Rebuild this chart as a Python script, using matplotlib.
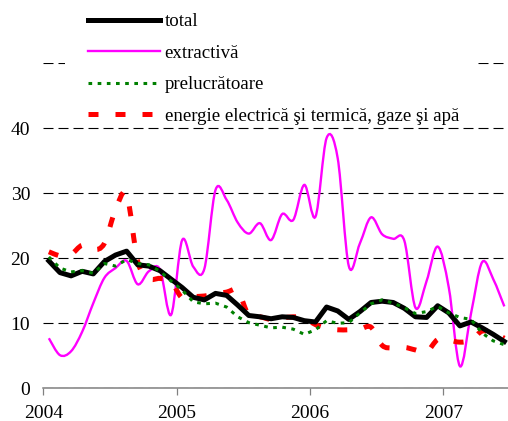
import numpy as np
import matplotlib.pyplot as plt
from matplotlib.path import Path
from matplotlib.patches import PathPatch, Rectangle
from matplotlib.lines import Line2D

plt.rcParams['font.family'] = ['Liberation Serif', 'DejaVu Serif']

years = ['2004', '2005', '2006', '2007']
# monthly data Jan 2004 .. Jun 2007, plotted mid-month
months = np.arange(42) + 0.5

total = [19.6, 17.8, 17.3, 18.0, 17.6, 19.5, 20.5, 21.1, 19.0, 18.8, 18.1, 16.8,
         15.5, 14.0, 13.6, 14.6, 14.3, 12.8, 11.2, 11.0, 10.7, 11.0, 10.9, 10.4,
         10.2, 12.5, 11.9, 10.6, 11.8, 13.2, 13.4, 13.2, 12.3, 11.0, 10.9, 12.7,
         11.6, 9.6, 10.2, 9.3, 8.3, 7.2]
extractiva = [7.7, 5.1, 5.7, 8.7, 13.1, 17.0, 18.5, 19.6, 16.0, 18.0, 18.3, 11.3,
              22.8, 18.7, 18.4, 30.5, 29.0, 25.5, 23.8, 25.4, 22.8, 26.8, 25.9, 31.3,
              26.4, 38.5, 35.4, 18.8, 22.3, 26.3, 23.7, 23.0, 22.7, 12.4, 16.5, 21.8,
              15.5, 3.4, 11.5, 19.4, 16.8, 12.6]
prelucratoare = [20.2, 18.5, 17.9, 18.1, 17.7, 19.2, 18.8, 19.8, 19.2, 19.0, 18.0, 16.5,
                 15.1, 13.3, 13.0, 13.1, 12.5, 11.0, 10.1, 9.7, 9.3, 9.4, 9.1, 8.3,
                 9.0, 10.4, 10.0, 10.1, 11.6, 13.0, 13.6, 13.1, 12.4, 11.5, 11.8, 12.6,
                 11.6, 10.9, 10.6, 8.5, 7.3, 6.7]
energie = [21.0, 20.4, 20.6, 22.0, 21.3, 22.3, 27.5, 29.8, 19.5, 16.9, 16.9, 16.4,
           13.9, 14.1, 14.2, 14.5, 14.8, 15.0, 11.2, 11.0, 10.6, 10.8, 11.0, 10.8,
           9.8, 9.2, 9.0, 9.0, 9.1, 9.4, 6.6, 6.2, 6.3, 5.9, 5.6, 7.5,
           7.4, 7.1, 7.4, 8.8, 8.5, 7.7]

labels = ['total', 'extractivă', 'prelucrătoare',
          'energie electrică şi termică, gaze şi apă']


def smooth(x, y):
    # smoothed line like excel: cubic bezier going through every point
    p = np.column_stack([np.asarray(x, float), np.asarray(y, float)])
    pp = np.vstack([p[0], p, p[-1]])
    verts = [p[0]]
    codes = [Path.MOVETO]
    for i in range(len(p) - 1):
        p0, p1, p2, p3 = pp[i], pp[i + 1], pp[i + 2], pp[i + 3]
        verts += [p1 + (p2 - p0) / 6, p2 - (p3 - p1) / 6, p2]
        codes += [Path.CURVE4] * 3
    return Path(verts, codes)


fig = plt.figure(figsize=(5.08, 4.21), dpi=100)
ax = fig.add_axes([43.3 / 508, 32.7 / 421, (508 - 43.3) / 508, 325 / 421])
ax.set_xlim(0, 41.83)
ax.set_ylim(0, 50)

for s in ['top', 'right', 'left']:
    ax.spines[s].set_visible(False)
ax.spines['bottom'].set_color('#808080')
ax.spines['bottom'].set_linewidth(1.1)

ax.set_xticks([0, 12, 24, 36], years)
ax.set_yticks([0, 10, 20, 30, 40, 50], ['0', '10', '20', '30', '40', ''])
ax.tick_params(axis='x', direction='out', length=5, width=0.9, color='#808080',
               pad=7, labelsize=14)
ax.tick_params(axis='y', length=0, pad=9.5, labelsize=14)
ax.yaxis.grid(True, color='black', lw=0.8, linestyle=(0, (9, 4.5)))
ax.set_axisbelow(True)

ax.plot(months, total, color='black', lw=3.6)
ax.add_patch(PathPatch(smooth(months, extractiva), fill=False,
                       edgecolor='#ff00ff', lw=1.7))
ax.plot(months, prelucratoare, color='#008000', lw=2.2, linestyle=(0, (1.2, 1.8)))
ax.add_patch(PathPatch(smooth(months, energie), fill=False,
                       edgecolor='red', lw=3.6, linestyle=(0, (2, 3.4))))

# white legend area hiding the top gridline
fig.patches.append(Rectangle((65 / 508, 1 - 120 / 421), 413 / 508, 120 / 421,
                             transform=fig.transFigure, facecolor='white',
                             edgecolor='none', zorder=1))

handles = [Line2D([], [], color='black', lw=3.6),
           Line2D([], [], color='#ff00ff', lw=1.7),
           Line2D([], [], color='#008000', lw=2.2, linestyle=(0, (1.2, 1.8))),
           Line2D([], [], color='red', lw=3.6, linestyle=(0, (2, 3.4)))]
fig.legend(handles, labels, loc='upper left', bbox_to_anchor=(88 / 508, 1 - 13 / 421),
           frameon=False, borderpad=0, borderaxespad=0, handlelength=3.8,
           handletextpad=0.26, labelspacing=0.76, fontsize=13.6)

fig.savefig('out.png', dpi=100)
